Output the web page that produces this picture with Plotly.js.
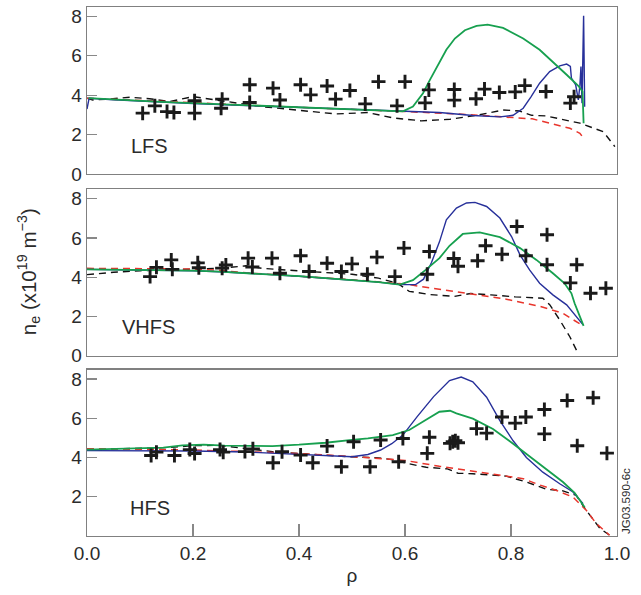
<!DOCTYPE html>
<html>
<head>
<meta charset="utf-8">
<script src="https://cdn.plot.ly/plotly-3.0.1.min.js"></script>
<style>html,body{margin:0;padding:0;background:#fff;}#chart{width:641px;height:595px;}</style>
</head>
<body>
<div id="chart"></div>
<script>
// ---------- LFS panel ----------
const lfsMeasRho = [0.105,0.128,0.151,0.164,0.203,0.203,0.255,0.253,0.307,0.307,0.351,0.364,0.403,0.422,0.453,0.469,0.496,0.525,0.550,0.585,0.600,0.645,0.638,0.693,0.693,0.734,0.750,0.778,0.808,0.826,0.866,0.912,0.919];
const lfsMeas    = [3.09,3.46,3.17,3.12,3.09,3.72,3.80,3.34,4.53,3.63,4.36,3.76,4.53,4.02,4.47,3.80,4.24,3.56,4.69,3.46,4.69,4.27,3.61,4.29,3.75,3.82,4.31,4.14,4.17,4.49,4.19,3.60,3.92];

const lfsGreenRho = [0.003,0.05,0.1,0.15,0.2,0.25,0.3,0.35,0.4,0.45,0.5,0.55,0.596,0.615,0.634,0.647,0.665,0.678,0.694,0.713,0.735,0.756,0.785,0.823,0.854,0.879,0.905,0.927,0.935,0.937];
const lfsGreen    = [3.85,3.78,3.72,3.65,3.6,3.55,3.5,3.45,3.4,3.34,3.3,3.25,3.18,3.42,4.1,4.78,5.68,6.31,6.88,7.3,7.52,7.58,7.42,6.88,6.31,5.71,5.04,4.48,4.19,2.58];

const lfsBlueRho = [0,0.004,0.05,0.1,0.2,0.3,0.4,0.5,0.6,0.665,0.728,0.779,0.804,0.823,0.838,0.854,0.873,0.892,0.905,0.912,0.914,0.922,0.927,0.93,0.932,0.934,0.937,0.939];
const lfsBlue    = [3.3,3.85,3.77,3.7,3.58,3.48,3.38,3.28,3.15,3.12,2.97,2.9,2.98,3.34,3.93,4.61,5.2,5.49,5.58,5.46,4.87,4.53,3.76,4.5,5.46,3.6,8.04,3.42];

const lfsRedRho = [0,0.1,0.2,0.3,0.4,0.5,0.6,0.7,0.78,0.81,0.84,0.873,0.911,0.93,0.939];
const lfsRed    = [3.85,3.75,3.62,3.5,3.4,3.3,3.17,3.05,2.92,2.88,2.8,2.58,2.32,2.07,1.73];

const lfsBlackRho = [0,0.011,0.04,0.081,0.118,0.156,0.2,0.244,0.288,0.33,0.376,0.422,0.469,0.53,0.577,0.631,0.685,0.739,0.785,0.816,0.839,0.866,0.93,0.974,0.996];
const lfsBlack    = [3.85,3.76,3.8,3.9,3.82,3.68,3.93,3.76,3.56,3.42,3.3,3.18,3.05,3.12,2.85,2.7,2.78,3.0,3.25,3.2,2.98,2.95,2.58,2.15,1.39];

// ---------- VHFS panel ----------
const vhfsMeasRho = [0.119,0.131,0.159,0.161,0.209,0.211,0.255,0.262,0.304,0.312,0.349,0.364,0.403,0.419,0.453,0.480,0.500,0.529,0.547,0.581,0.598,0.642,0.646,0.692,0.700,0.737,0.752,0.783,0.811,0.828,0.868,0.868,0.912,0.924,0.950,0.979];
const vhfsMeas    = [4.03,4.5,4.88,4.4,4.73,4.48,4.46,4.62,4.97,4.52,4.97,4.2,5.09,4.29,4.71,4.29,4.68,4.15,5.02,4.03,5.48,4.15,5.31,4.95,4.56,4.84,5.6,5.17,6.58,5.09,6.16,4.63,3.71,4.63,3.18,3.44];

const vhfsGreenRho = [0,0.1,0.2,0.25,0.3,0.35,0.4,0.45,0.5,0.55,0.59,0.615,0.639,0.665,0.684,0.709,0.741,0.779,0.817,0.848,0.879,0.901,0.914,0.92,0.93,0.937];
const vhfsGreen    = [4.4,4.38,4.33,4.28,4.2,4.15,4.05,3.95,3.85,3.75,3.62,3.85,4.37,4.97,5.6,6.2,6.28,6.04,5.48,4.88,4.2,3.69,3.18,2.67,1.99,1.52];

const vhfsBlueRho = [0,0.1,0.2,0.25,0.3,0.35,0.4,0.45,0.5,0.55,0.59,0.62,0.635,0.65,0.665,0.678,0.697,0.716,0.732,0.754,0.779,0.801,0.817,0.835,0.854,0.879,0.905,0.936];
const vhfsBlue    = [4.4,4.38,4.33,4.28,4.2,4.15,4.05,3.95,3.85,3.75,3.62,3.62,3.9,4.75,5.8,6.92,7.52,7.78,7.81,7.6,7.01,6.07,5.14,4.37,3.69,3.1,2.59,1.57];

const vhfsRedRho = [0,0.1,0.2,0.25,0.3,0.4,0.5,0.6,0.665,0.728,0.791,0.854,0.898,0.936];
const vhfsRed    = [4.45,4.45,4.42,4.35,4.22,4.05,3.87,3.65,3.39,3.12,2.88,2.52,2.16,1.52];

const vhfsBlackRho = [0,0.05,0.1,0.2,0.25,0.3,0.33,0.4,0.45,0.5,0.55,0.585,0.608,0.646,0.693,0.724,0.762,0.808,0.86,0.873,0.892,0.911,0.927];
const vhfsBlack    = [4.13,4.25,4.33,4.4,4.45,4.58,4.45,4.32,4.25,4.15,3.95,3.7,3.28,3.12,3.02,3.17,3.1,3.0,2.93,2.6,1.82,0.97,0.09];

// ---------- HFS panel ----------
const hfsMeasRho = [0.121,0.131,0.165,0.194,0.203,0.251,0.257,0.298,0.313,0.351,0.368,0.403,0.426,0.453,0.480,0.503,0.534,0.554,0.588,0.596,0.642,0.646,0.685,0.690,0.695,0.700,0.735,0.754,0.783,0.808,0.828,0.863,0.863,0.906,0.925,0.955,0.981];
const hfsMeas    = [4.1,4.27,4.1,4.4,4.2,4.4,4.27,4.3,4.44,3.73,4.29,4.12,3.73,4.58,3.53,4.8,3.53,4.89,3.78,4.97,4.21,5.03,4.72,4.8,4.85,4.75,5.47,5.24,6.06,5.75,6.06,6.44,5.2,6.9,4.6,7.04,4.22];

const hfsGreenRho = [0,0.1,0.144,0.18,0.22,0.26,0.3,0.35,0.4,0.45,0.5,0.53,0.577,0.608,0.639,0.665,0.685,0.697,0.728,0.766,0.804,0.835,0.867,0.898,0.92,0.939];
const hfsGreen    = [4.4,4.45,4.5,4.62,4.65,4.6,4.58,4.58,4.65,4.75,4.9,4.97,5.14,5.4,5.91,6.33,6.38,6.25,5.98,5.45,4.7,4.05,3.4,2.75,2.2,1.47];

const hfsBlueRho = [0,0.1,0.2,0.3,0.35,0.4,0.45,0.5,0.53,0.554,0.575,0.596,0.623,0.654,0.684,0.706,0.728,0.754,0.779,0.804,0.829,0.86,0.892,0.917,0.936];
const hfsBlue    = [4.35,4.35,4.33,4.28,4.22,4.15,4.07,4.04,4.15,4.38,4.7,5.14,6.08,7.1,7.92,8.1,7.85,7.07,5.88,4.85,4.0,3.25,2.66,2.24,1.65];

const hfsRedRho = [0,0.1,0.2,0.3,0.4,0.5,0.55,0.6,0.665,0.728,0.791,0.823,0.854,0.886,0.917,0.942,0.961,0.986];
const hfsRed    = [4.45,4.43,4.38,4.3,4.2,4.05,3.95,3.85,3.55,3.3,3.05,2.92,2.6,2.32,1.98,1.31,0.63,0.04];

const hfsBlackRho = [0,0.1,0.15,0.2,0.25,0.3,0.35,0.4,0.45,0.5,0.55,0.58,0.6,0.64,0.68,0.7,0.728,0.791,0.829,0.867,0.898,0.923,0.942,0.968,0.986];
const hfsBlack    = [4.4,4.45,4.5,4.6,4.62,4.45,4.3,4.2,4.1,4.03,3.98,3.88,3.72,3.5,3.42,3.2,3.17,3.05,2.75,2.38,2.3,2.07,1.31,0.38,0.04];

const xTickVals = [0,0.2,0.4,0.6,0.8,1.0];
const xTickText = ['0.0','0.2','0.4','0.6','0.8','1.0'];
const yTickTop = [0,2,4,6,8];
const yTickBottom = [2,4,6,8];
const panelLabels = ['LFS','VHFS','HFS'];

// ---------- styles ----------
const GREEN = '#17a04f', BLUE = '#27309a', RED = '#e8352c', BLACK = '#111111';
const FONT = '"Liberation Sans", Arial, Helvetica, sans-serif';
const TXT = '#2b2b2b';
const FRAME = '#808080';

function panelTraces(xa, ya, blk, blkY, red, redY, blue, blueY, grn, grnY, mx, my) {
  return [
    {x: blk, y: blkY, xaxis: xa, yaxis: ya, mode: 'lines', line: {color: BLACK, width: 1.4, dash: '7px,5px'}, hoverinfo: 'skip'},
    {x: red, y: redY, xaxis: xa, yaxis: ya, mode: 'lines', line: {color: RED, width: 1.5, dash: '7px,5px'}, hoverinfo: 'skip'},
    {x: blue, y: blueY, xaxis: xa, yaxis: ya, mode: 'lines', line: {color: BLUE, width: 1.4}, hoverinfo: 'skip'},
    {x: grn, y: grnY, xaxis: xa, yaxis: ya, mode: 'lines', line: {color: GREEN, width: 1.8}, hoverinfo: 'skip'},
    {x: mx, y: my, xaxis: xa, yaxis: ya, mode: 'markers', marker: {symbol: 'cross-thin', size: 10, line: {color: '#1a1a1a', width: 2.9}}, hoverinfo: 'skip'}
  ];
}

const data = [].concat(
  panelTraces('x3','y3', lfsBlackRho, lfsBlack, lfsRedRho, lfsRed, lfsBlueRho, lfsBlue, lfsGreenRho, lfsGreen, lfsMeasRho, lfsMeas),
  panelTraces('x2','y2', vhfsBlackRho, vhfsBlack, vhfsRedRho, vhfsRed, vhfsBlueRho, vhfsBlue, vhfsGreenRho, vhfsGreen, vhfsMeasRho, vhfsMeas),
  panelTraces('x','y', hfsBlackRho, hfsBlack, hfsRedRho, hfsRed, hfsBlueRho, hfsBlue, hfsGreenRho, hfsGreen, hfsMeasRho, hfsMeas)
);

const xBase = {range: [0, 1], showline: true, mirror: true, linecolor: FRAME, linewidth: 1.3, showgrid: false, zeroline: false};
const yBase = {range: [0, 8.48], showline: true, mirror: true, linecolor: FRAME, linewidth: 1.3, showgrid: false, zeroline: false,
  ticks: 'inside', ticklen: 10, tickwidth: 1.3, tickcolor: '#888', tickfont: {family: FONT, size: 19, color: TXT}};

const layout = {
  width: 641, height: 595,
  margin: {l: 87, r: 24, t: 7, b: 59},
  paper_bgcolor: '#fff', plot_bgcolor: '#fff',
  showlegend: false,
  font: {family: FONT, color: TXT},
  xaxis: Object.assign({}, xBase, {anchor: 'y', domain: [0, 1], ticks: 'inside', ticklen: 12, tickwidth: 1.3, tickcolor: '#888',
    tickvals: xTickVals, ticktext: xTickText, tickfont: {family: FONT, size: 19, color: TXT},
    title: {text: 'ρ', font: {family: FONT, size: 19, color: TXT}, standoff: 5}}),
  xaxis2: Object.assign({}, xBase, {anchor: 'y2', matches: 'x', showticklabels: false, ticks: ''}),
  xaxis3: Object.assign({}, xBase, {anchor: 'y3', matches: 'x', showticklabels: false, ticks: ''}),
  yaxis: Object.assign({}, yBase, {anchor: 'x', domain: [0, 0.3147], tickvals: yTickBottom}),
  yaxis2: Object.assign({}, yBase, {anchor: 'x2', domain: [0.3407, 0.6556], tickvals: yTickTop}),
  yaxis3: Object.assign({}, yBase, {anchor: 'x3', domain: [0.6843, 1], tickvals: yTickTop}),
  annotations: [
    {text: panelLabels[0], xref: 'x3', yref: 'y3', x: 0.08, y: 1.44, xanchor: 'left', yanchor: 'middle', showarrow: false, font: {family: FONT, size: 20, color: TXT}},
    {text: panelLabels[1], xref: 'x2', yref: 'y2', x: 0.063, y: 1.48, xanchor: 'left', yanchor: 'middle', showarrow: false, font: {family: FONT, size: 20, color: TXT}},
    {text: panelLabels[2], xref: 'x', yref: 'y', x: 0.077, y: 1.41, xanchor: 'left', yanchor: 'middle', showarrow: false, font: {family: FONT, size: 20, color: TXT}},
    {text: 'n<sub>e</sub> (x10<sup>19</sup> m<sup>−3</sup>)', xref: 'paper', yref: 'paper', x: -0.11, y: 0.5, xanchor: 'center', yanchor: 'middle', textangle: -90, showarrow: false, font: {family: FONT, size: 20.5, color: TXT}},
    {text: 'JG03.590-6c', xref: 'paper', yref: 'paper', x: 1.002, y: 0.0, xanchor: 'left', yanchor: 'bottom', textangle: -90, showarrow: false, font: {family: FONT, size: 11.5, color: TXT}}
  ]
};

Plotly.newPlot('chart', data, layout, {displayModeBar: false, staticPlot: true});
</script>
</body>
</html>
